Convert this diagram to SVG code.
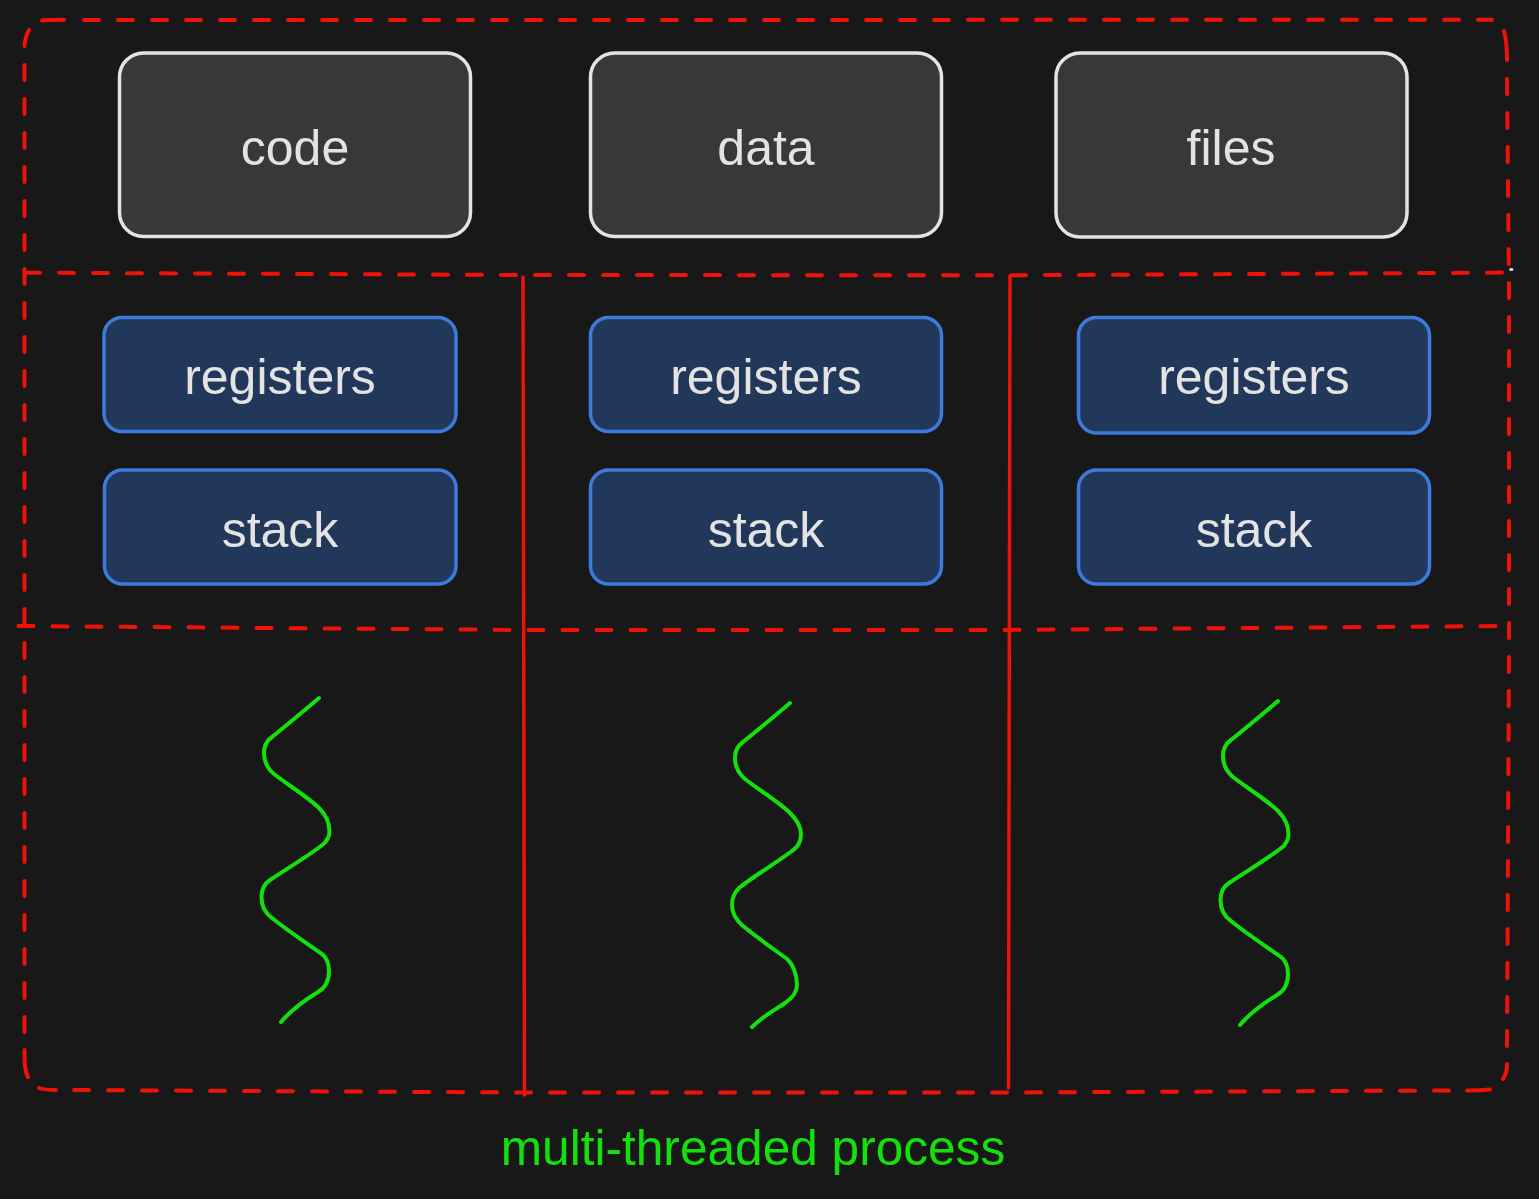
<svg xmlns="http://www.w3.org/2000/svg" width="1539" height="1199" viewBox="0 0 1539 1199">
<style>
.bg{fill:#181818}
.dash{fill:none;stroke:#ee1208;stroke-width:4;stroke-linecap:round;stroke-dasharray:15 19}
.red{fill:none;stroke:#ee1208;stroke-width:4;stroke-linecap:round}
.solid{fill:none;stroke:#ee1208;stroke-width:3.500;stroke-linecap:round}
.wave{fill:none;stroke:#14e00c;stroke-width:4;stroke-linecap:round;stroke-linejoin:round}
.gray{fill:#383838;stroke:#e3e3e3;stroke-width:3.500}
.blue{fill:#22385a;stroke:#3c7bdc;stroke-width:3.500}
text{font-family:"Liberation Sans",Arial,sans-serif;font-size:50px;text-anchor:middle;fill:#e3e3e3}
.lbl{fill:#14e00c;font-size:49.600px}
</style>
<rect class="bg" width="1539" height="1199"/>
<g id="connectors">
<path class="red" d="M42 20.500C46 19.800 50 19.800 64 19.800"/>
<path class="dash" d="M84 20L1492 19.800"/>
<path class="red" d="M1504 31C1506 38 1507 45 1507 60"/>
<path class="dash" d="M1507 79L1509 290L1509 650L1507 1048"/>
<path class="red" d="M1490 1089.500C1480 1090.500 1475 1090.500 1467 1090.500"/>
<path class="red" d="M1507 1064C1507 1070 1506 1075 1503 1079"/>
<path class="dash" d="M1449 1090.500L1000 1092.500L524 1092.500L73.500 1090"/>
<path class="red" d="M56 1090C48 1090 43 1089.500 39 1088"/>
<path class="red" d="M28 1077C25 1071 24.500 1066 24.500 1050"/>
<path class="dash" d="M24.500 1032L24.500 64.500"/>
<path class="red" d="M24.500 46C25 40 26 35 29 30"/>
<path class="dash" d="M25 272.700L523 275L1010 275.300L1505 272.600"/>
<path class="dash" d="M18.500 626L523 630L1000 630L1497 626"/>
<path class="solid" d="M523 277L524.500 1095"/>
<path class="solid" d="M1010 276L1008.500 1088"/>
<path class="wave" d="M319 698C305 710 288 724 272 737C265 742 264 748 264 753C264 761 267 768 274 774C288 785 308 797 319 808C326 815 329.500 823 329.500 831C329.500 837 327 842 321 846C305 858 285 870 270 880C264 884 261.500 890 261.500 897C261.500 905 265 913 272 918C288 931 308 944 322 954C327 958 329 965 329 971C329 980 325 988 318 992C305 1000 292 1009 281 1022"/>
<path class="wave" d="M790 703C776 715 759 729 743 742C736 747 735 753 735 758C735 766 738 773 745 779C759 790 779 802 790 813C797 820 801 828 801 834C801 842 798 847 792 851C776 863 751 878 739 888C734 893 732 898 732 905C732 913 736 920 743 926C759 939 775 950 787 959C793 964 797 975 797 985C797 994 791 999 785 1003C775 1010 763 1016 752 1027"/>
<path class="wave" transform="translate(959 3)" d="M319 698C305 710 288 724 272 737C265 742 264 748 264 753C264 761 267 768 274 774C288 785 308 797 319 808C326 815 329.500 823 329.500 831C329.500 837 327 842 321 846C305 858 285 870 270 880C264 884 261.500 890 261.500 897C261.500 905 265 913 272 918C288 931 308 944 322 954C327 958 329 965 329 971C329 980 325 988 318 992C305 1000 292 1009 281 1022"/>
<path d="M1510.800 269.500L1511.800 269.500" fill="none" stroke="#e3e3e3" stroke-width="3" stroke-linecap="round"/>
</g>
<g id="code"><rect class="gray" x="119.500" y="53" width="351" height="183.500" rx="24"/><text x="295" y="165">code</text></g>
<g id="data"><rect class="gray" x="590.500" y="53" width="351" height="183.500" rx="24"/><text x="766" y="165">data</text></g>
<g id="files"><rect class="gray" x="1056" y="53" width="351" height="184" rx="24"/><text x="1231" y="165">files</text></g>
<g id="registers-1"><rect class="blue" x="104" y="317.500" width="352" height="114" rx="18"/><text x="280" y="394">registers</text></g>
<g id="registers-2"><rect class="blue" x="590.500" y="317.500" width="351" height="114" rx="18"/><text x="766" y="394">registers</text></g>
<g id="registers-3"><rect class="blue" x="1078.500" y="317.500" width="351" height="115.500" rx="18"/><text x="1254" y="394">registers</text></g>
<g id="stack-1"><rect class="blue" x="104.500" y="470" width="351.500" height="114" rx="18"/><text x="280" y="546.500">stack</text></g>
<g id="stack-2"><rect class="blue" x="590.500" y="470" width="351" height="114" rx="18"/><text x="766" y="546.500">stack</text></g>
<g id="stack-3"><rect class="blue" x="1078.500" y="470" width="351" height="114" rx="18"/><text x="1254" y="546.500">stack</text></g>
<g id="caption"><text class="lbl" x="753" y="1165">multi-threaded process</text></g>
</svg>
